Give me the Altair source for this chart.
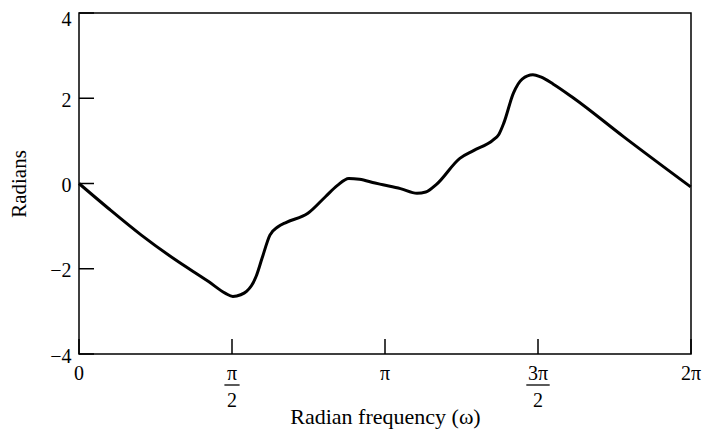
import math
import pandas as pd
import altair as alt

PI = math.pi

# Phase response
omega = [0.00, 0.30, 0.64, 0.99, 1.33, 1.50, 1.58, 1.66, 1.72, 1.77, 1.82, 1.88, 1.96, 2.04,
         2.13, 2.35, 2.53, 2.65, 2.77, 2.88, 3.04, 3.12, 3.30, 3.47, 3.56, 3.67, 3.91, 4.05,
         4.25, 4.31, 4.36, 4.46, 4.55, 4.66, 4.74, 4.87, 5.08, 5.59, 6.28]
phase = [0.00, -0.58, -1.21, -1.79, -2.30, -2.57, -2.65, -2.61, -2.53, -2.40, -2.17, -1.75, -1.21, -1.02,
         -0.91, -0.70, -0.31, -0.05, 0.12, 0.10, 0.01, -0.03, -0.12, -0.23, -0.20, -0.02, 0.59, 0.77,
         1.02, 1.15, 1.41, 2.12, 2.45, 2.55, 2.50, 2.33, 2.00, 1.10, -0.08]

# Axis tick positions / labels
x_tick_pos = [0, PI / 2, PI, 3 * PI / 2, 2 * PI]
x_tick_num = ["0", "π", "π", "3π", "2π"]
x_tick_den = ["", "2", "", "2", ""]
frac_pos = [PI / 2, 3 * PI / 2]
frac_halfwidth = [0.078, 0.12]
y_ticks = [-4, -2, 0, 2, 4]

W, H = 612, 341
FONT = "Liberation Serif"

df = pd.DataFrame({"omega": omega, "phase": phase})
xt = pd.DataFrame({"omega": x_tick_pos, "num": x_tick_num, "den": x_tick_den})
fr = pd.DataFrame({"omega": [p - h for p, h in zip(frac_pos, frac_halfwidth)],
                   "hi": [p + h for p, h in zip(frac_pos, frac_halfwidth)]})
yt = pd.DataFrame({"phase": y_ticks})

xs = alt.Scale(domain=[0, 2 * PI], nice=False, zero=False)
ys = alt.Scale(domain=[-4, 4], nice=False, zero=False)

x_axis = alt.Axis(values=x_tick_pos, labels=False, ticks=False, tickSize=0, domain=False,
                  grid=False, title="Radian frequency (ω)", titleFont=FONT,
                  titleFontSize=22, titleFontWeight="normal", titleColor="black",
                  titleY=69, titleBaseline="alphabetic")
y_axis = alt.Axis(values=y_ticks, ticks=False, tickSize=0, domain=False, grid=False,
                  labelPadding=8,
                  labelOffset={"condition": {"test": "datum.value == 4", "value": -4}, "value": 2},
                  labelBaseline={"condition": {"test": "datum.value == 4", "value": "top"},
                                 "value": "middle"},
                  labelFont=FONT, labelFontSize=20, labelColor="black",
                  title="Radians", titleFont=FONT, titleFontSize=21,
                  titleFontWeight="normal", titleColor="black", titleX=-54,
                  titleBaseline="alphabetic")

X = alt.X("omega:Q", scale=xs, axis=x_axis)
Y = alt.Y("phase:Q", scale=ys, axis=y_axis)

line = alt.Chart(df).mark_line(color="black", strokeWidth=3, interpolate="monotone").encode(
    x=X, y=Y)

yticks = alt.Chart(yt).mark_rule(color="black", strokeWidth=1.5).encode(
    x=alt.value(0), x2=alt.value(15), y=Y)

xticks = alt.Chart(xt).mark_rule(color="black", strokeWidth=1.5).encode(
    x=X, y=alt.value(H), y2=alt.value(H - 15))

nums = alt.Chart(xt).mark_text(font=FONT, fontSize=20, color="black", align="center",
                               baseline="alphabetic").encode(
    x=X, y=alt.value(H + 26), text="num:N")

dens = alt.Chart(xt).mark_text(font=FONT, fontSize=20, color="black", align="center",
                               baseline="alphabetic").encode(
    x=X, y=alt.value(H + 53), text="den:N")

bars = alt.Chart(fr).mark_rule(color="black", strokeWidth=1.3).encode(
    x=X, x2="hi:Q", y=alt.value(H + 31))

chart = alt.layer(line, yticks, xticks, nums, dens, bars).properties(
    width=W, height=H,
    autosize=alt.AutoSizeParams(type="none"),
    padding={"left": 71, "top": 5, "right": 12, "bottom": 76},
    background="white",
).configure_view(stroke="black", strokeWidth=1.5)

chart.save("out.html", embed_options={"renderer": "svg", "actions": False})
